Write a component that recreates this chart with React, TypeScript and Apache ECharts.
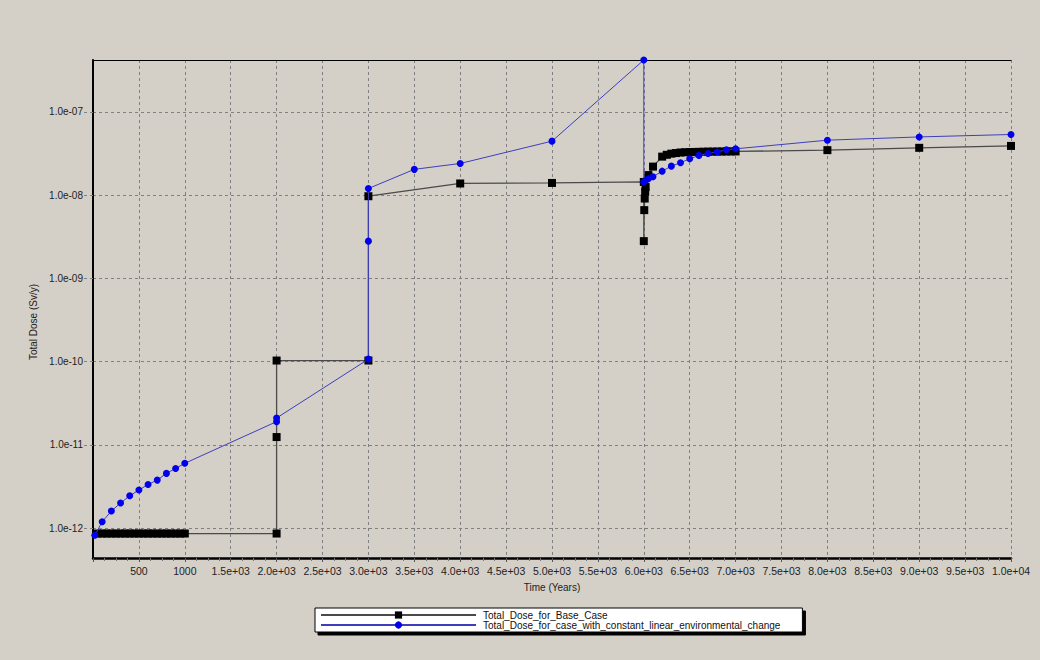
import React, { useEffect, useRef } from "react";
import * as echarts from "echarts";

// ---- data ----
const baseTimes: number[] = [
  50, 100, 150, 200, 250, 300, 350, 400, 450, 500, 550, 600, 650, 700, 750, 800, 850, 900, 950, 1000,
  2000, 2000, 2000,
  3000, 3000,
  4000, 5000,
  6000, 6000, 6005, 6010, 6015, 6020, 6050, 6100, 6200, 6250, 6300, 6350, 6400, 6450, 6500,
  6550, 6600, 6650, 6700, 6750, 6800, 6850, 6900, 6950, 7000,
  8000, 9000, 10000,
];
const baseDose: number[] = [
  8.6e-13, 8.6e-13, 8.6e-13, 8.6e-13, 8.6e-13, 8.6e-13, 8.6e-13, 8.6e-13, 8.6e-13, 8.6e-13,
  8.6e-13, 8.6e-13, 8.6e-13, 8.6e-13, 8.6e-13, 8.6e-13, 8.6e-13, 8.6e-13, 8.6e-13, 8.6e-13,
  8.6e-13, 1.24e-11, 1.03e-10,
  1.03e-10, 9.7e-9,
  1.38e-8, 1.4e-8,
  1.44e-8, 2.8e-9, 6.6e-9, 9.1e-9, 1.1e-8, 1.25e-8, 1.74e-8, 2.2e-8, 2.9e-8, 3.05e-8, 3.15e-8,
  3.2e-8, 3.25e-8, 3.27e-8, 3.29e-8,
  3.3e-8, 3.31e-8, 3.32e-8, 3.33e-8, 3.33e-8, 3.34e-8, 3.34e-8, 3.35e-8, 3.35e-8, 3.35e-8,
  3.47e-8, 3.7e-8, 3.9e-8,
];

const envTimes: number[] = [
  20, 100, 200, 300, 400, 500, 600, 700, 800, 900, 1000,
  2000, 2000,
  3000, 3000, 3000,
  3500, 4000, 5000,
  6000, 6000, 6020, 6050, 6100, 6200, 6300, 6400, 6500, 6600, 6700, 6800, 6900, 7000,
  8000, 9000, 10000,
];
const envDose: number[] = [
  8.2e-13, 1.19e-12, 1.6e-12, 2.0e-12, 2.44e-12, 2.86e-12, 3.34e-12, 3.77e-12, 4.54e-12, 5.2e-12, 6.0e-12,
  1.9e-11, 2.1e-11,
  1.07e-10, 2.8e-9, 1.2e-8,
  2.04e-8, 2.4e-8, 4.45e-8,
  4.2e-7, 1.44e-8, 1.5e-8, 1.57e-8, 1.66e-8, 1.94e-8, 2.23e-8, 2.45e-8, 2.73e-8, 3.0e-8, 3.16e-8,
  3.3e-8, 3.5e-8, 3.6e-8,
  4.57e-8, 5.0e-8, 5.35e-8,
];

const seriesNames: string[] = [
  "Total_Dose_for_Base_Case",
  "Total_Dose_for_case_with_constant_linear_environmental_change",
];

const xMin = 0;
const xMax = 10000;
const xInterval = 500;
const yMin = 4.37e-13;
const yMax = 4.2e-7;

const BG = "#d4d0c8";
const FONT = "'Liberation Sans', Arial, sans-serif";

function fmtX(v: number): string {
  if (v === 0) return "";
  if (v <= 1000) return String(v);
  const s = v.toExponential(1);
  const [m, e] = s.split("e");
  const sign = e[0];
  const digits = e.slice(1).padStart(2, "0");
  return `${m}e${sign}${digits}`;
}

function fmtY(v: number): string {
  const l = Math.log10(v);
  if (Math.abs(l - Math.round(l)) > 1e-6) return "";
  const p = Math.round(l);
  const sign = p < 0 ? "-" : "+";
  return `1.0e${sign}${String(Math.abs(p)).padStart(2, "0")}`;
}

export default function App() {
  const ref = useRef<HTMLDivElement>(null);
  useEffect(() => {
    if (!ref.current) return;
    const chart = echarts.init(ref.current, undefined, { renderer: "svg" });
    const baseData = baseTimes.map((t, i) => [t, baseDose[i]]);
    const envData = envTimes.map((t, i) => [t, envDose[i]]);
    chart.setOption({
      animation: false,
      backgroundColor: BG,
      textStyle: { fontFamily: FONT },
      grid: { left: 93, right: 29, top: 60, bottom: 102, containLabel: false },
      xAxis: [
        {
          type: "value",
          min: xMin,
          max: xMax,
          interval: xInterval,
          name: "Time (Years)",
          nameLocation: "middle",
          nameGap: 24,
          nameTextStyle: { color: "#222", fontSize: 10, fontFamily: FONT },
          axisLine: { show: true, onZero: false, lineStyle: { color: "#000", width: 2.5 } },
          axisTick: { show: true, length: 4, lineStyle: { color: "#555" } },
          minorTick: { show: true, splitNumber: 4, length: 3, lineStyle: { color: "#777" } },
          axisLabel: {
            color: "#222",
            fontSize: 10.5,
            fontFamily: FONT,
            margin: 7,
            formatter: fmtX,
            showMinLabel: false,
          },
          splitLine: { show: true, lineStyle: { color: "#808080", type: [3, 3], width: 1 } },
        },
        {
          type: "value",
          position: "top",
          min: xMin,
          max: xMax,
          axisLine: { show: true, onZero: false, lineStyle: { color: "#000", width: 1 } },
          axisTick: { show: false },
          axisLabel: { show: false },
          splitLine: { show: false },
        },
      ],
      yAxis: {
        type: "log",
        logBase: 10,
        min: yMin,
        max: yMax,
        name: "Total Dose (Sv/y)",
        nameLocation: "middle",
        nameGap: 55,
        nameRotate: 90,
        nameTextStyle: { color: "#222", fontSize: 10, fontFamily: FONT, padding: [0, 26, 0, 0] },
        axisLine: { show: true, onZero: false, lineStyle: { color: "#000", width: 2 } },
        axisTick: { show: true, length: 9, lineStyle: { color: "#808080", type: [3, 3] } },
        axisLabel: {
          color: "#222",
          fontSize: 10,
          fontFamily: FONT,
          margin: 10,
          formatter: fmtY,
          showMinLabel: false,
          showMaxLabel: false,
        },
        splitLine: { show: true, lineStyle: { color: "#808080", type: [3, 3], width: 1 } },
      },
      legend: {
        orient: "vertical",
        left: 315,
        top: 608,
        itemWidth: 155,
        itemHeight: 9,
        itemGap: 0,
        padding: [2, 22, 2, 5],
        backgroundColor: "#ffffff",
        borderColor: "#000",
        borderWidth: 1,
        borderRadius: 0,
        shadowColor: "#000",
        shadowBlur: 0,
        shadowOffsetX: 3,
        shadowOffsetY: 3,
        textStyle: { color: "#111", fontSize: 10, fontFamily: FONT, lineHeight: 9, padding: [0, 0, 0, 2] },
        data: seriesNames,
      },
      series: [
        {
          name: seriesNames[0],
          type: "line",
          data: baseData,
          symbol: "rect",
          symbolSize: 8,
          itemStyle: { color: "#000" },
          lineStyle: { color: "#4a4a4a", width: 1.3 },
          showAllSymbol: true,
          z: 2,
        },
        {
          name: seriesNames[1],
          type: "line",
          data: envData,
          symbol: "circle",
          symbolSize: 7,
          itemStyle: { color: "#0000ee" },
          lineStyle: { color: "#3e3ebc", width: 1 },
          showAllSymbol: true,
          z: 3,
        },
      ],
    });
    return () => chart.dispose();
  }, []);
  return (
    <div
      ref={ref}
      style={{ position: "fixed", left: 0, top: 0, width: 1040, height: 660 }}
    />
  );
}
